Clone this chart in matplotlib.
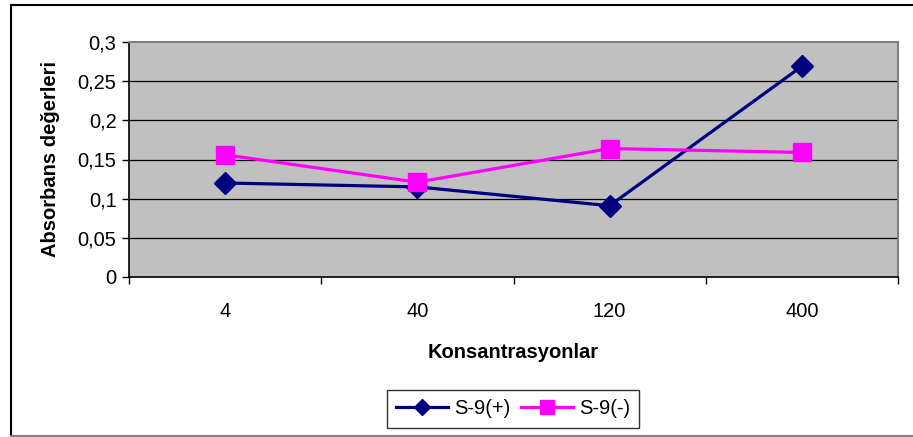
import matplotlib
matplotlib.use("Agg")
import matplotlib.pyplot as plt
import numpy as np

# Absorbance values per concentration
categories = ["4", "40", "120", "400"]
s9_plus = [0.12, 0.115, 0.091, 0.269]
s9_minus = [0.156, 0.121, 0.164, 0.159]
y_ticks = [0, 0.05, 0.1, 0.15, 0.2, 0.25, 0.3]
y_tick_labels = ["0", "0,05", "0,1", "0,15", "0,2", "0,25", "0,3"]

plt.rcParams['font.family'] = ['Liberation Sans', 'DejaVu Sans']

W, H = 913, 437
fig = plt.figure(figsize=(W / 100, H / 100), dpi=100)

# Plot area in pixel coordinates
left, right, top, bottom = 129, 898, 42, 277
ax = fig.add_axes([left / W, 1 - bottom / H, (right - left) / W, (bottom - top) / H])
ax.set_facecolor('#C0C0C0')

x = np.arange(len(categories))
ax.plot(x, s9_plus, color='#000080', lw=2.3, marker='D', ms=11, label='S-9(+)', zorder=3)
ax.plot(x, s9_minus, color='#FF00FF', lw=2.3, marker='s', ms=13, label='S-9(-)', zorder=3)

ax.set_xlim(-0.5, len(categories) - 0.5)
ax.set_ylim(0, 0.3)
ax.set_yticks(y_ticks)
ax.set_yticklabels(y_tick_labels, fontsize=14.5)
for yv in y_ticks[1:-1]:
    ax.axhline(yv, color='black', lw=0.9, zorder=1)

# Category labels centred, tick marks between categories
ax.set_xticks(x)
ax.set_xticklabels(categories, fontsize=14.5)
ax.tick_params(axis='x', length=0, pad=18)
ax.set_xticks(np.arange(len(categories) + 1) - 0.5, minor=True)
ax.tick_params(axis='x', which='minor', length=5, width=1, color='black', direction='out')
ax.tick_params(axis='y', length=5, width=1, color='black', direction='out', pad=4)

for side in ['top', 'right']:
    ax.spines[side].set_color('#808080')
    ax.spines[side].set_linewidth(1.5)
for side in ['left', 'bottom']:
    ax.spines[side].set_color('black')
    ax.spines[side].set_linewidth(1.2)

ax.set_xlabel('Konsantrasyonlar', fontsize=14.5, fontweight='bold', labelpad=16)
ax.set_ylabel('Absorbans değerleri', fontsize=14.5, fontweight='bold', labelpad=13)

leg = fig.legend(loc='center', bbox_to_anchor=(513 / W, 1 - 409 / H), ncol=2, fontsize=14.5,
                 frameon=True, fancybox=False, edgecolor='black', borderpad=0.45,
                 handlelength=2.6, columnspacing=0.5, handletextpad=0.3, markerscale=0.75)
leg.get_frame().set_linewidth(1.0)

# Outer chart border, open on the right
fig.add_artist(plt.Line2D([11 / W, 1], [1 - 5 / H, 1 - 5 / H], color='black', lw=1.5))
fig.add_artist(plt.Line2D([11 / W, 11 / W], [1 - 5 / H, 1 - 436 / H], color='black', lw=1.5))
fig.add_artist(plt.Line2D([11 / W, 1], [1 - 436 / H, 1 - 436 / H], color='#808080', lw=1.5))

fig.savefig('out.png', dpi=100)
